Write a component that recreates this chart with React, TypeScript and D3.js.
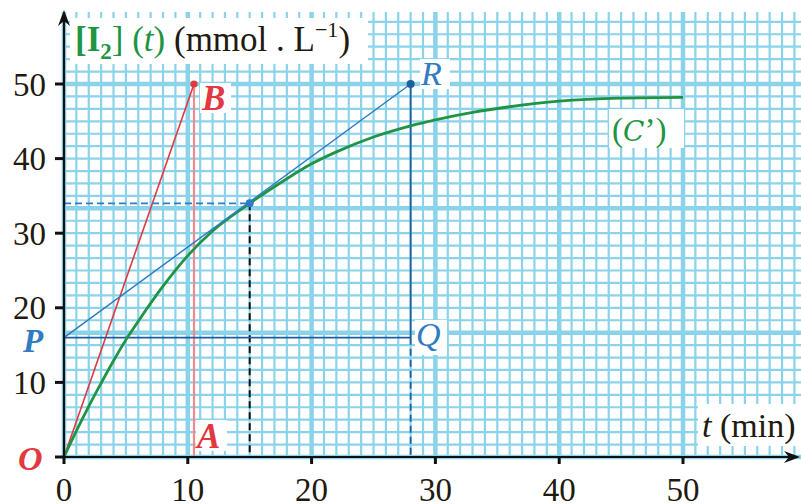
import React from "react";
import * as d3 from "d3";

// curve (C'): t in min, [I2] in mmol/L
const timeMin = [0, 1, 2, 3, 4, 5, 6, 8, 10, 12, 15, 18, 20, 22, 25, 28, 30, 33, 36, 40, 45, 50];
const iodine = [0, 3.5, 6.8, 9.9, 12.9, 15.7, 18.2, 22.9, 27.0, 30.3, 34.0, 37.3, 39.3, 40.9, 42.9, 44.4, 45.2, 46.2, 46.95, 47.7, 48.1, 48.2];

const xTicks = [0, 10, 20, 30, 40, 50];
const yTicks = [0, 10, 20, 30, 40, 50];

// construction points (t, value)
const pointB = [10.5, 50];
const pointA = [10.5, 0];
const pointM = [15, 34];
const pointP = [0, 16];
const pointQ = [28, 16];
const pointR = [28, 50];

const W = 801;
const H = 504;
const serif = "Liberation Serif, Times New Roman, serif";

const GREEN = "#1f9444";
const RED = "#e2383f";
const PINK = "#ef8a90";
const BLUE = "#2f7cc3";
const DARKBLUE = "#1d5f9f";
const GRID = "#8ad3ea";
const INK = "#22190f";

export default function App() {
  const x = d3.scaleLinear().domain([0, 50]).range([64, 683]);
  const y = d3.scaleLinear().domain([0, 50]).range([457, 84]);

  const gridTop = 12;
  const vLines = d3.range(0, 61, 1);
  const hLines = d3.range(0, 37, 1).map((k) => (k * 50) / 30);

  const line = d3
    .line<number>()
    .x((_, i) => x(timeMin[i]))
    .y((d) => y(d))
    .curve(d3.curveMonotoneX);

  const seg = (a: number[], b: number[]) => ({ x1: x(a[0]), y1: y(a[1]), x2: x(b[0]), y2: y(b[1]) });

  const labelBox = (bx: number, by: number, bw: number, bh: number) => (
    <rect x={bx} y={by} width={bw} height={bh} fill="#fff" />
  );

  return (
    <div style={{ position: "absolute", left: 0, top: 0 }}>
      <svg width={W} height={H} style={{ display: "block", background: "#fff" }}>
        {/* grid */}
        <g>
          {vLines.map((v) => {
            const px = x(v);
            if (px > W + 2) return null;
            return (
              <line key={"v" + v} x1={px} x2={px} y1={gridTop} y2={y(0)} stroke={GRID} strokeWidth={v % 10 === 0 ? 4.5 : 2.2} />
            );
          })}
          {hLines.map((v, k) => {
            const py = y(v);
            if (py < gridTop - 1) return null;
            return (
              <line key={"h" + k} x1={x(0)} x2={W} y1={py} y2={py} stroke={GRID} strokeWidth={k % 10 === 0 ? 4.5 : 2.2} />
            );
          })}
        </g>

        {/* title box */}
        {labelBox(70, 18, 298, 46)}
        <text x={75} y={51} fontFamily={serif} fontSize={35} fill={INK}>
          <tspan fill={GREEN} fontWeight="bold">[I</tspan>
          <tspan fill={GREEN} fontWeight="bold" fontSize={23} dy={8}>2</tspan>
          <tspan fill={GREEN} dy={-8}>]</tspan>
          <tspan fill={GREEN}> (</tspan>
          <tspan fill={GREEN} fontStyle="italic">t</tspan>
          <tspan fill={GREEN}>)</tspan>
          <tspan> (mmol . L</tspan>
          <tspan fontSize={22} dy={-14}>−1</tspan>
          <tspan dy={14}>)</tspan>
        </text>

        {/* construction lines */}
        <line {...seg(pointB, pointA)} stroke={PINK} strokeWidth={2.2} />
        <line {...seg([0, 0], pointB)} stroke={RED} strokeWidth={1.6} />
        <line {...seg([0, pointM[1]], pointM)} stroke={BLUE} strokeWidth={1.8} strokeDasharray="7,4" />
        <line {...seg(pointM, [pointM[0], 0])} stroke="#111" strokeWidth={2} strokeDasharray="7,4" />
        <line {...seg(pointP, pointQ)} stroke={DARKBLUE} strokeWidth={1.8} />
        <line {...seg(pointR, pointQ)} stroke={DARKBLUE} strokeWidth={1.8} />
        <line {...seg(pointQ, [pointQ[0], 0])} stroke={DARKBLUE} strokeWidth={1.8} strokeDasharray="7,4" />

        {/* curve */}
        <path d={line(iodine) || ""} fill="none" stroke={GREEN} strokeWidth={2.8} />

        {/* tangent */}
        <line {...seg(pointP, pointR)} stroke={BLUE} strokeWidth={1.5} />

        {/* points */}
        <circle cx={x(pointB[0])} cy={y(pointB[1])} r={3.6} fill={RED} />
        <circle cx={x(pointM[0])} cy={y(pointM[1])} r={4} fill={BLUE} />
        <circle cx={x(pointR[0])} cy={y(pointR[1])} r={4} fill={DARKBLUE} />

        {/* axes */}
        <line x1={x(0)} x2={792} y1={y(0)} y2={y(0)} stroke="#111" strokeWidth={2.2} />
        <line x1={x(0)} x2={x(0)} y1={y(0)} y2={20} stroke="#111" strokeWidth={2.2} />
        <path d={`M800,${y(0)} L784,${y(0) - 6} L789,${y(0)} L784,${y(0) + 6} Z`} fill="#111" />
        <path d={`M${x(0)},10 L${x(0) - 6},26 L${x(0)},21 L${x(0) + 6},26 Z`} fill="#111" />
        {xTicks.map((t) => (
          <g key={"xt" + t}>
            <line x1={x(t)} x2={x(t)} y1={y(0)} y2={y(0) + 7} stroke="#111" strokeWidth={3} />
            <text x={x(t)} y={501} textAnchor="middle" fontFamily={serif} fontSize={33} fill={INK}>
              {t}
            </text>
          </g>
        ))}
        {yTicks.map((t) => (
          <g key={"yt" + t}>
            <line x1={x(0) - 9} x2={x(0)} y1={y(t)} y2={y(t)} stroke="#111" strokeWidth={3} />
            {t > 0 && (
              <text x={46} y={y(t) + 11.5} textAnchor="end" fontFamily={serif} fontSize={33} fill={INK}>
                {t}
              </text>
            )}
          </g>
        ))}

        {/* point labels */}
        {labelBox(200, 83, 31, 30)}
        <text x={202} y={110} fontFamily={serif} fontSize={35} fontStyle="italic" fontWeight="bold" fill={RED}>B</text>
        {labelBox(196, 420, 31, 31)}
        <text x={197} y={448} fontFamily={serif} fontSize={35} fontStyle="italic" fontWeight="bold" fill={RED}>A</text>
        <text x={18} y={470} fontFamily={serif} fontSize={34} fontStyle="italic" fontWeight="bold" fill={RED}>O</text>
        <text x={23} y={352} fontFamily={serif} fontSize={33} fontStyle="italic" fontWeight="bold" fill={BLUE}>P</text>
        {labelBox(415, 320, 32, 35)}
        <text x={416} y={346} fontFamily={serif} fontSize={34} fontStyle="italic" fill={BLUE}>Q</text>
        {labelBox(420, 59, 30, 30)}
        <text x={421} y={85} fontFamily={serif} fontSize={34} fontStyle="italic" fill={BLUE}>R</text>

        {/* curve label */}
        {labelBox(609, 109, 75, 39)}
        <text x={612} y={141} fontFamily={serif} fontSize={33} fill={GREEN}>
          <tspan>(</tspan>
          <tspan fontStyle="italic" fontFamily="DejaVu Serif, serif" fontSize={28}>C</tspan>
          <tspan>’)</tspan>
        </text>

        {/* x axis title */}
        {labelBox(698, 404, 103, 42)}
        <text x={702} y={437} fontFamily={serif} fontSize={34} fill={INK}>
          <tspan fontStyle="italic">t</tspan>
          <tspan> (min)</tspan>
        </text>
      </svg>
    </div>
  );
}
